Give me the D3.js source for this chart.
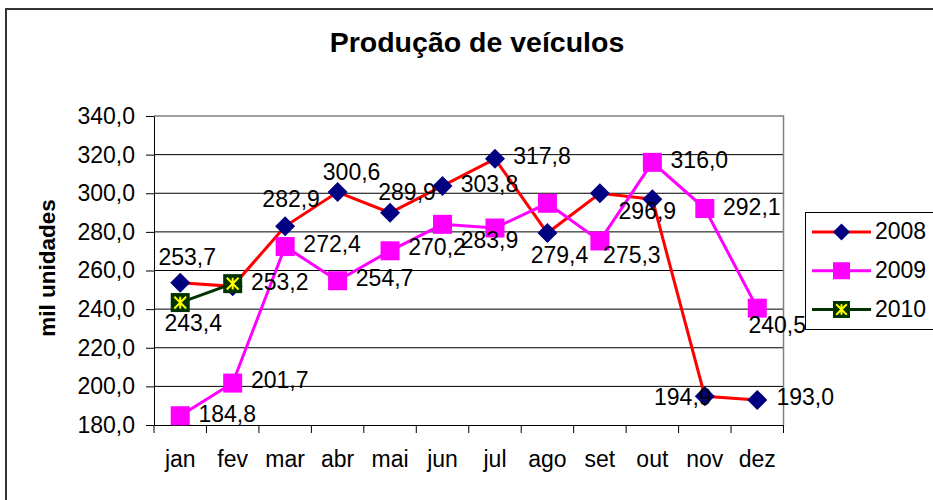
<!DOCTYPE html>
<html>
<head>
<meta charset="utf-8">
<script src="https://cdn.jsdelivr.net/npm/d3@7"></script>
<style>
  body { margin: 0; background: #fff; }
  svg { display: block; font-family: "Liberation Sans", Arial, sans-serif; }
</style>
</head>
<body>
<div id="chart"></div>
<script>
// data
const months = ["jan", "fev", "mar", "abr", "mai", "jun", "jul", "ago", "set", "out", "nov", "dez"];
const years = ["2008", "2009", "2010"];
const prod2008 = [253.7, 251.8, 282.9, 300.6, 289.9, 303.8, 317.8, 279.4, 300.0, 296.9, 194.9, 193.0];
const prod2009 = [184.8, 201.7, 272.4, 254.7, 270.2, 283.9, 282.0, 294.8, 275.3, 316.0, 292.1, 240.5];
const prod2010 = [243.4, 253.2];
const yTicks = [180, 200, 220, 240, 260, 280, 300, 320, 340];

// where each data label sits relative to its marker [dx of text centre, dy of baseline], null = hidden
const labelOffsets = {
  "2008": [[7, -18], null, [6, -19], [14, -12], [17, -13], [47, 6], [47, 5], [12, 30], null, [-5, 20], [-22, 9], [48, 5]],
  "2009": [[47, 6], [47, 5], [47, 5], [47, 5], [47, 4], [47, 24], null, null, [32, 22], [47, 6], [47, 6], [20, 25]],
  "2010": [[13, 28], [47, 6]]
};

const width = 933, height = 500;
const margin = {left: 154, right: 783.5, top: 116, bottom: 425};
const fmt = v => d3.format(".1f")(v).replace(".", ",");

const svg = d3.select("#chart").append("svg")
  .attr("width", width)
  .attr("height", height);

svg.append("rect").attr("width", width).attr("height", height).attr("fill", "#fff");

// outer chart frame (only top and left edges visible in the crop)
svg.append("path")
  .attr("d", `M6,${height} V9 H${width}`)
  .attr("fill", "none")
  .attr("stroke", "#333")
  .attr("stroke-width", 2);

const x = d3.scaleBand().domain(months).range([margin.left, margin.right]);
const y = d3.scaleLinear().domain([180, 340]).range([margin.bottom, margin.top]);
const cx = m => x(m) + x.bandwidth() / 2;

// title
svg.append("text")
  .attr("x", 477).attr("y", 52)
  .attr("text-anchor", "middle")
  .attr("font-size", 28.5).attr("font-weight", "bold")
  .text("Produção de veículos");

// gridlines
svg.append("g").selectAll("line")
  .data(yTicks.filter(d => d > 180 && d < 340))
  .join("line")
    .attr("x1", margin.left).attr("x2", margin.right)
    .attr("y1", d => y(d)).attr("y2", d => y(d))
    .attr("stroke", "#000").attr("stroke-width", 1);

// plot border top/right
svg.append("path")
  .attr("d", `M${margin.left},${y(340)} H${margin.right} V${margin.bottom}`)
  .attr("fill", "none").attr("stroke", "#808080").attr("stroke-width", 1.5);

// y axis
const yAxis = svg.append("g")
  .attr("transform", `translate(${margin.left},0)`)
  .call(d3.axisLeft(y).tickValues(yTicks).tickFormat(fmt).tickSize(8).tickSizeOuter(0).tickPadding(11));
yAxis.selectAll("text").attr("font-size", 23).attr("fill", "#000")
  .attr("font-family", "Liberation Sans, Arial, sans-serif");
yAxis.selectAll("line, path").attr("stroke", "#000");

// x axis
const xAxis = svg.append("g")
  .attr("transform", `translate(0,${margin.bottom})`)
  .call(d3.axisBottom(x).tickSize(0).tickSizeOuter(0));
xAxis.select("path").attr("stroke", "#000");
xAxis.selectAll("text")
  .attr("y", 42).attr("dy", 0)
  .attr("font-size", 23).attr("fill", "#000")
  .attr("font-family", "Liberation Sans, Arial, sans-serif");
xAxis.selectAll(".boundary")
  .data(months.map(m => x(m)).concat([margin.right]))
  .join("line")
    .attr("class", "boundary")
    .attr("x1", d => d).attr("x2", d => d)
    .attr("y1", 0).attr("y2", 8)
    .attr("stroke", "#000");

// y axis title
svg.append("text")
  .attr("transform", "translate(55,268) rotate(-90)")
  .attr("text-anchor", "middle")
  .attr("font-size", 22.5).attr("font-weight", "bold")
  .text("mil unidades");

const series = [
  {name: "2008", values: prod2008, line: "#ff0000", marker: "diamond", fill: "#000080"},
  {name: "2009", values: prod2009, line: "#ff00ff", marker: "square", fill: "#ff00ff"},
  {name: "2010", values: prod2010, line: "#003300", marker: "star", fill: "#003300"}
];

function drawMarker(g, type, fill, s) {
  if (type === "diamond") {
    g.append("path")
      .attr("d", `M0,${-s} L${s},0 L0,${s} L${-s},0 Z`)
      .attr("fill", fill);
  } else {
    g.append("rect")
      .attr("x", -s).attr("y", -s).attr("width", 2 * s).attr("height", 2 * s)
      .attr("fill", fill);
    if (type === "star") {
      const a = s * 0.62;
      g.append("path")
        .attr("d", `M0,${-a} V${a} M${-a},${-a} L${a},${a} M${a},${-a} L${-a},${a}`)
        .attr("stroke", "#ffff00").attr("stroke-width", 2);
    }
  }
}

const line = d3.line().x((d, i) => cx(months[i])).y(d => y(d));

series.forEach(s => {
  const g = svg.append("g");
  g.append("path")
    .attr("d", line(s.values))
    .attr("fill", "none")
    .attr("stroke", s.line)
    .attr("stroke-width", 3);
  s.values.forEach((v, i) => {
    const m = g.append("g").attr("transform", `translate(${cx(months[i])},${y(v)})`);
    drawMarker(m, s.marker, s.fill, s.marker === "diamond" ? 10 : 9.5);
  });
});

// data labels on top
series.forEach(s => {
  svg.append("g").selectAll("text")
    .data(s.values.map((v, i) => ({v, i, off: labelOffsets[s.name][i]})).filter(d => d.off))
    .join("text")
      .attr("x", d => cx(months[d.i]) + d.off[0])
      .attr("y", d => y(d.v) + d.off[1])
      .attr("text-anchor", "middle")
      .attr("font-size", 23)
      .text(d => fmt(d.v));
});

// legend
const legend = svg.append("g");
legend.append("rect")
  .attr("x", 805.5).attr("y", 212.5).attr("width", 140).attr("height", 117)
  .attr("fill", "#fff").attr("stroke", "#000");
const legendY = d3.scalePoint().domain(years).range([232, 309.5]);
series.forEach(s => {
  const row = legend.append("g").attr("transform", `translate(0,${legendY(s.name)})`);
  row.append("line")
    .attr("x1", 812).attr("x2", 871)
    .attr("stroke", s.line).attr("stroke-width", 3);
  const m = row.append("g").attr("transform", "translate(841.5,0)");
  drawMarker(m, s.marker, s.fill, 8.5);
  row.append("text")
    .attr("x", 875).attr("y", 7)
    .attr("font-size", 23)
    .text(s.name);
});
</script>
</body>
</html>
